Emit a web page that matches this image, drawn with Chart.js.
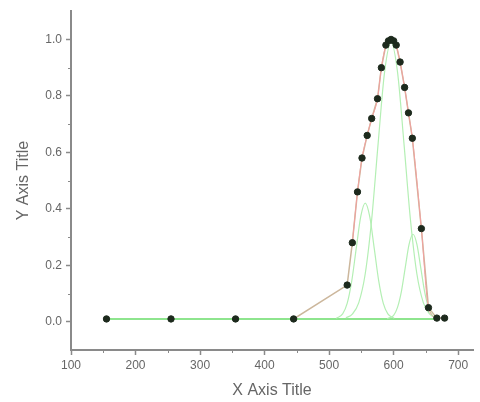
<!DOCTYPE html>
<html>
<head>
<meta charset="utf-8">
<script src="https://cdn.jsdelivr.net/npm/chart.js@4"></script>
<style>
  html, body { margin: 0; padding: 0; background: #fff; }
</style>
</head>
<body>
<canvas id="chart" width="480" height="402"></canvas>
<script>
// measured data points
const dataX = [155, 255, 355, 445, 528, 536, 544, 551, 559, 566, 575, 581, 588, 592, 596, 600, 604, 610, 617, 623, 629, 643, 654, 667, 679];
const dataY = [0.01, 0.01, 0.01, 0.01, 0.13, 0.28, 0.46, 0.58, 0.66, 0.72, 0.79, 0.90, 0.98, 0.995, 1.0, 0.995, 0.98, 0.92, 0.83, 0.74, 0.65, 0.33, 0.05, 0.013, 0.013];

// cumulative fit curve (red)
const fitX = [536, 544, 551, 559, 566, 575, 581, 588, 592, 596, 600, 604, 610, 617, 623, 629, 643, 654, 667];
const fitY = [0.28, 0.46, 0.58, 0.66, 0.72, 0.79, 0.90, 0.98, 0.995, 1.0, 0.995, 0.98, 0.92, 0.83, 0.74, 0.65, 0.33, 0.05, 0.013];

// baseline
const baseX = [155, 255, 355, 445, 555, 667];
const baseY = [0.01, 0.01, 0.01, 0.01, 0.01, 0.01];

// fitted peaks (green)
const peak1X = [511, 521, 528, 535, 542, 549, 556, 563, 570, 577, 584, 591, 601];
const peak1Y = [0.012, 0.028, 0.065, 0.143, 0.259, 0.372, 0.42, 0.372, 0.259, 0.143, 0.065, 0.028, 0.012];
const peak2X = [526, 536, 546, 556, 566, 576, 586, 596, 606, 616, 626, 636, 646, 656, 666];
const peak2Y = [0.014, 0.027, 0.068, 0.17, 0.363, 0.632, 0.885, 0.99, 0.885, 0.632, 0.363, 0.17, 0.068, 0.027, 0.014];
const peak3X = [590, 600, 606, 612, 618, 624, 630, 636, 642, 648, 654, 660, 670];
const peak3Y = [0.011, 0.023, 0.051, 0.107, 0.192, 0.275, 0.31, 0.275, 0.192, 0.107, 0.051, 0.023, 0.011];

// tick labels
const xTicks = [100, 200, 300, 400, 500, 600, 700];
const yTicks = [0.0, 0.2, 0.4, 0.6, 0.8, 1.0];
const xMinor = [150, 250, 350, 450, 550, 650];
const yMinor = [0.1, 0.3, 0.5, 0.7, 0.9];

const pts = (xs, ys) => xs.map((x, i) => ({ x: x, y: ys[i] }));

const axisColor = '#8a8a8a';
const textColor = '#666';
const font = 'Liberation Sans, Arial, sans-serif';

// small minor ticks, Origin style
const minorTicks = {
    id: 'minorTicks',
    afterDraw(chart) {
        const { ctx, scales: { x, y } } = chart;
        ctx.save();
        ctx.strokeStyle = axisColor;
        ctx.lineWidth = 1;
        ctx.beginPath();
        xMinor.forEach(v => {
            const px = Math.round(x.getPixelForValue(v)) + 0.5;
            ctx.moveTo(px, y.bottom);
            ctx.lineTo(px, y.bottom + 3);
        });
        yMinor.forEach(v => {
            const py = Math.round(y.getPixelForValue(v)) + 0.5;
            ctx.moveTo(x.left, py);
            ctx.lineTo(x.left - 3, py);
        });
        ctx.stroke();
        ctx.restore();
    }
};

const curve = (data, color, width, order) => ({
    data: data,
    showLine: true,
    borderColor: color,
    borderWidth: width,
    pointRadius: 0,
    tension: 0.4,
    cubicInterpolationMode: 'monotone',
    fill: false,
    order: order
});

new Chart(document.querySelector('#chart'), {
    type: 'scatter',
    data: {
        datasets: [
            {
                data: pts(dataX, dataY),
                showLine: false,
                pointRadius: 3.2,
                pointBackgroundColor: '#1d2a1d',
                pointBorderColor: '#1d2a1d',
                pointBorderWidth: 1,
                order: 0
            },
            curve(pts(fitX, fitY), '#f3a0a0', 1, 1),
            curve(pts(peak1X, peak1Y), '#b4efb4', 1.2, 2),
            curve(pts(peak2X, peak2Y), '#b4efb4', 1.2, 2),
            curve(pts(peak3X, peak3Y), '#b4efb4', 1.2, 2),
            {
                data: pts(baseX, baseY),
                showLine: true,
                borderColor: '#8ee58e',
                borderWidth: 2,
                pointRadius: 0,
                order: 3
            },
            {
                data: pts(dataX, dataY),
                showLine: true,
                borderColor: '#ccb79c',
                borderWidth: 1.5,
                pointRadius: 0,
                order: 4
            }
        ]
    },
    options: {
        responsive: false,
        animation: false,
        layout: { padding: { left: 0, right: 7, top: 10, bottom: 0 } },
        plugins: { legend: { display: false }, tooltip: { enabled: false } },
        scales: {
            x: {
                type: 'linear',
                position: 'bottom',
                min: 100,
                max: 723,
                afterBuildTicks: s => { s.ticks = xTicks.map(v => ({ value: v })); },
                afterFit: s => { s.height = 52; },
                ticks: {
                    callback: v => String(v),
                    color: textColor,
                    font: { family: font, size: 12 },
                    padding: 3,
                    maxRotation: 0
                },
                grid: { drawOnChartArea: false, tickLength: 5, tickColor: axisColor, tickWidth: 1.5 },
                border: { color: axisColor, width: 2 },
                title: {
                    display: true,
                    text: 'X Axis Title',
                    color: textColor,
                    font: { family: font, size: 16 },
                    padding: { top: 0, bottom: 2 }
                }
            },
            y: {
                type: 'linear',
                min: -0.1,
                max: 1.1,
                afterBuildTicks: s => { s.ticks = yTicks.map(v => ({ value: v })); },
                afterFit: s => { s.width = 71; },
                ticks: {
                    callback: v => v.toFixed(1),
                    color: textColor,
                    font: { family: font, size: 12 },
                    padding: 4
                },
                grid: { drawOnChartArea: false, tickLength: 5, tickColor: axisColor, tickWidth: 1.5 },
                border: { color: axisColor, width: 2 },
                title: {
                    display: true,
                    text: 'Y Axis Title',
                    color: textColor,
                    font: { family: font, size: 16 },
                    padding: { top: 14, bottom: 0 }
                }
            }
        }
    },
    plugins: [minorTicks]
});
</script>
</body>
</html>
